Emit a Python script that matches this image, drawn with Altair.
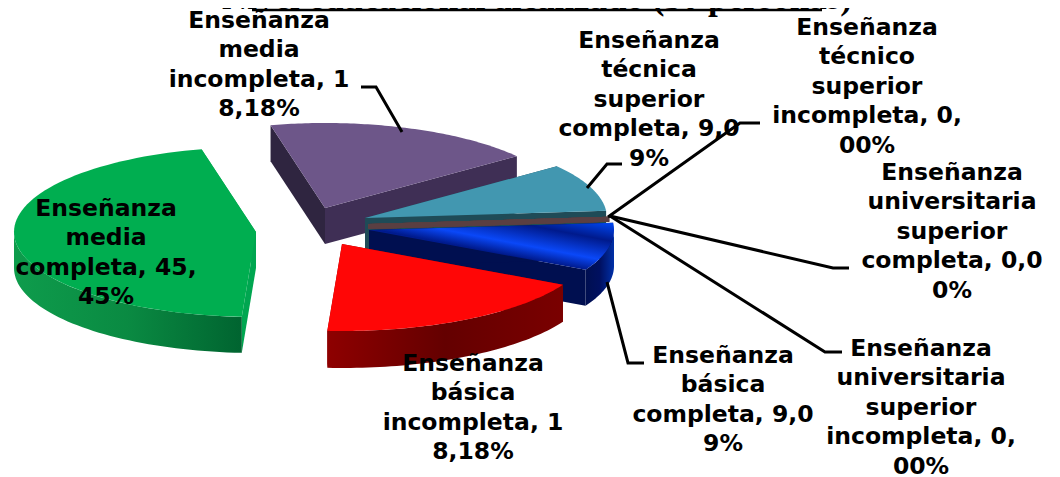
import numpy as np
import pandas as pd
import altair as alt

# ---- values ----
categories = [
    "Enseñanza media completa",
    "Enseñanza básica incompleta",
    "Enseñanza básica completa",
    "Enseñanza universitaria superior incompleta",
    "Enseñanza universitaria superior completa",
    "Enseñanza técnico superior incompleta",
    "Enseñanza técnica superior completa",
    "Enseñanza media incompleta",
]
values = [45, 18, 9, 0, 0, 0, 9, 18]

label_texts = [
    "Enseñanza\nmedia\ncompleta, 45,\n45%",
    "Enseñanza\nbásica\nincompleta, 1\n8,18%",
    "Enseñanza\nbásica\ncompleta, 9,0\n9%",
    "Enseñanza\nuniversitaria\nsuperior\nincompleta, 0,\n00%",
    "Enseñanza\nuniversitaria\nsuperior\ncompleta, 0,0\n0%",
    "Enseñanza\ntécnico\nsuperior\nincompleta, 0,\n00%",
    "Enseñanza\ntécnica\nsuperior\ncompleta, 9,0\n9%",
    "Enseñanza\nmedia\nincompleta, 1\n8,18%",
]
title_text = "Nivel educacional alcanzado (50 personas)"

# ---- layout, in the picture's pixel units (scale domains below) ----
label_x = [106, 473, 723, 921, 952, 867, 649, 259]
label_y = [209, 364, 356, 349, 173, 28, 41, 21]
centres = [(256, 232), (342, 244), (369, 230), (368, 224), (368, 224), (368, 224), (365, 218), (325, 208)]
radii_x = [242, 250, 245, 242, 242, 242, 242, 242]
radii_y = [85, 87, 85, 85, 85, 85, 85, 85]
DEPTH, START = 36, 103

leaders = [
    [(361, 87), (376, 87), (402, 132)],
    [(622, 164), (607, 164), (587, 188)],
    [(760, 123), (740, 123), (608, 217)],
    [(610, 216), (833, 268), (849, 268)],
    [(610, 216), (825, 352), (842, 352)],
    [(607, 282), (628, 363), (644, 363)],
]

def grad(stops, x1=0, y1=0, x2=1, y2=0):
    n = len(stops)
    gs = [s if isinstance(s, tuple) else (i / (n - 1), s) for i, s in enumerate(stops)]
    return alt.Gradient(gradient="linear", x1=x1, y1=y1, x2=x2, y2=y2,
                        stops=[alt.GradientStop(offset=o, color=c) for o, c in gs])

top_fill = [
    "#00AE50", "#FF0606",
    grad([(0, "#0048F5"), (.2, "#001A8C"), (.42, "#0A48F8"), (.56, "#001A8C"), (.72, "#0030D0"), (1, "#00106A")], 1, 0, 0, 1),
    "#5A3F42", "#5A3F42", "#5A3F42", "#4297B0", "#6D5689",
]
rim_fill = [
    grad(["#0E9C4C", "#0A8A42", "#006430"]),
    grad(["#8E0000", "#640000", "#7A0000"]),
    grad(["#000F50", "#001060", "#0030A8"]),
    "#5A3F42", "#5A3F42", "#5A3F42", "#1F4B57", "#3F2F55",
]
wall_a0 = ["#00A650", "#8E0000", "#000F50", "#5A3F42", "#5A3F42", "#5A3F42", "#1F4B57", "#3F2F55"]
wall_a1 = ["#00A650", "#8E0000", "#000F50", "#5A3F42", "#5A3F42", "#5A3F42", "#1F4B57", "#2F2540"]
depths = [DEPTH, 37, DEPTH, 5, 5, 5, DEPTH, DEPTH]

# ---- geometry derived from the values ----
sx = alt.Scale(domain=[8, 1052], nice=False, zero=False)
sy = alt.Scale(domain=[477, 8], nice=False, zero=False)

def ell(k, a):
    r = np.radians(a)
    c = centres[k]
    return c[0] + radii_x[k] * np.cos(r), c[1] - radii_y[k] * np.sin(r)

def poly(points, fill):
    df = pd.DataFrame({"x": [p[0] for p in points], "y": [p[1] for p in points], "i": range(len(points))})
    return alt.Chart(df).mark_line(fill=fill, stroke="#000000", strokeWidth=0, strokeOpacity=0).encode(
        x=alt.X("x:Q", scale=sx, axis=None),
        y=alt.Y("y:Q", scale=sy, axis=None),
        order=alt.Order("i:Q"),
    )

total = sum(values)
angles = START + 360 * np.concatenate([[0], np.cumsum(values)]) / total
spans = [(angles[i], angles[i + 1]) for i in range(len(values))]

def slice_layers(k):
    c, d = centres[k], depths[k]
    a0, a1 = spans[k]
    out = []
    for a, col in ((a0, wall_a0[k]), (a1, wall_a1[k])):
        p = ell(k, a)
        out.append(poly([c, p, (p[0], p[1] + d), (c[0], c[1] + d)], col))
    lo, hi = max(a0, 180), min(a1, 360)
    if hi > lo:
        arc = [ell(k, a) for a in np.linspace(lo, hi, 50)]
        out.append(poly(arc + [(x, y + d) for x, y in arc[::-1]], rim_fill[k]))
    if a1 > a0:
        arc = [ell(k, a) for a in np.linspace(a0, a1, 80)]
        out.append(poly([c] + arc, top_fill[k]))
    return out

layers = []
for k in [0, 7, 6, 3, 4, 5, 2, 1]:
    layers += slice_layers(k)

lead_df = pd.DataFrame([
    {"id": n, "i": i, "x": p[0], "y": p[1]} for n, pts in enumerate(leaders) for i, p in enumerate(pts)
])
layers.append(alt.Chart(lead_df).mark_line(color="#000000", strokeWidth=3).encode(
    x=alt.X("x:Q", scale=sx, axis=None), y=alt.Y("y:Q", scale=sy, axis=None),
    detail="id:N", order=alt.Order("i:Q")))

lab_df = pd.DataFrame({"t": label_texts, "x": label_x, "y": label_y})
layers.append(alt.Chart(lab_df).mark_text(
    font="DejaVu Sans", fontWeight="bold", fontSize=23.5, lineBreak="\n", lineHeight=29.4,
    align="center", baseline="middle", color="#000000").encode(
    x=alt.X("x:Q", scale=sx, axis=None), y=alt.Y("y:Q", scale=sy, axis=None), text="t:N"))

title_df = pd.DataFrame({"t": [title_text], "x": [537], "y": [8.5]})
layers.append(alt.Chart(title_df).mark_text(
    font="Liberation Serif", fontWeight="bold", fontSize=35, align="center", baseline="alphabetic",
    color="#000000").encode(
    x=alt.X("x:Q", scale=sx, axis=None), y=alt.Y("y:Q", scale=sy, axis=None), text="t:N"))
rule_df = pd.DataFrame({"x": [252], "x2": [822], "y": [10]})
layers.append(alt.Chart(rule_df).mark_rule(color="#000000", strokeWidth=2.5).encode(
    x=alt.X("x:Q", scale=sx, axis=None), x2="x2:Q", y=alt.Y("y:Q", scale=sy, axis=None)))

chart = alt.layer(*layers).properties(
    width=1044, height=469, padding=0, background="#FFFFFF",
    autosize=alt.AutoSizeParams(type="none"),
).configure_view(stroke=None)

chart.save("out.html", embed_options={"renderer": "svg", "actions": False})
